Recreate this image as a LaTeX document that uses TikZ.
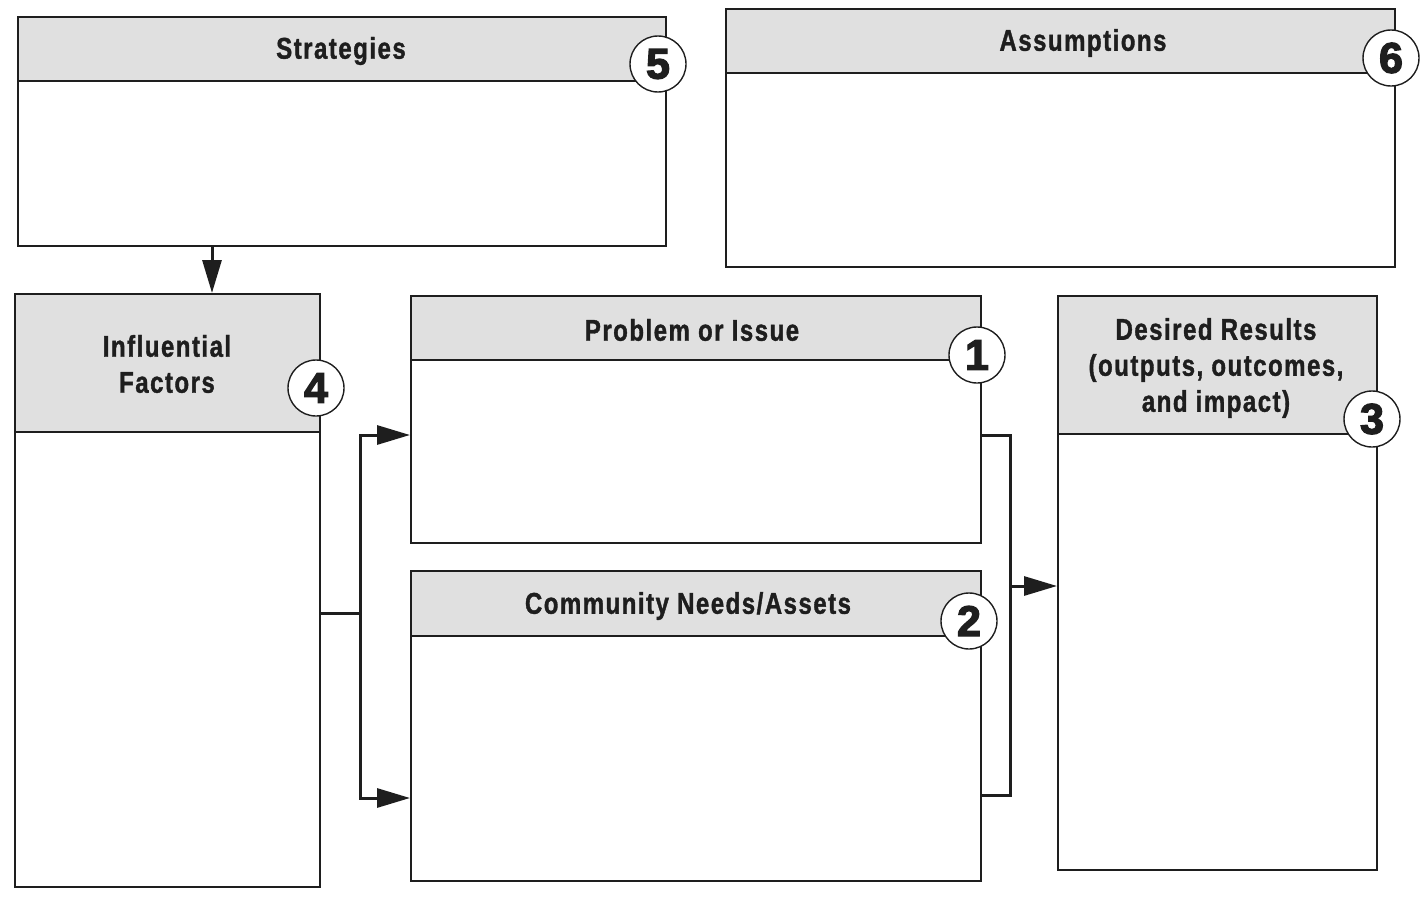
\documentclass[tikz,border=0pt]{standalone}
\usepackage{fontspec}
\setmainfont{Liberation Sans}
\newfontfamily\hf{Liberation Sans}[FakeStretch=0.8,LetterSpace=5,FakeBold=1.2]
\newfontfamily\numf{Liberation Sans}[FakeBold=3]
\usetikzlibrary{arrows.meta,calc}
\definecolor{hdr}{gray}{0.88}
\definecolor{ink}{HTML}{1E1E1E}
\tikzset{
  boxbody/.style={draw=ink, line width=2pt, anchor=north west, inner sep=0pt},
  boxhead/.style={draw=ink, line width=2pt, fill=hdr, anchor=north west, inner sep=0pt},
  htext/.style={font=\hf\bfseries\fontsize{30}{36}\selectfont, text=ink, align=center, inner sep=0pt},
  badge/.style={circle, draw=ink, line width=1.4pt, fill=white, minimum size=56pt, inner sep=0pt, font=\numf\bfseries\fontsize{43}{43}\selectfont, text=ink},
  conn/.style={draw=ink, line width=3pt},
  arr/.style={conn, -{Triangle[length=33pt,width=19pt]}},
}
\begin{document}
\begin{tikzpicture}[x=1pt,y=-1pt]
\useasboundingbox (0,0) rectangle (1428,902);
% Strategies
\node[boxbody, minimum width=648pt, minimum height=229pt] (strat) at (17,16) {};
\node[boxhead, minimum width=648pt, minimum height=64pt] (strath) at (17,16) {};
\node[htext] (stratt) at (341,51) {Strategies};
\node[badge] (b5) at (658,64) {5};
% Assumptions
\node[boxbody, minimum width=669pt, minimum height=258pt] (assu) at (725,8) {};
\node[boxhead, minimum width=669pt, minimum height=64pt] (assuh) at (725,8) {};
\node[htext] (assut) at (1083,43) {Assumptions};
\node[badge] (b6) at (1391,58) {6};
% Influential Factors
\node[boxbody, minimum width=305pt, minimum height=593pt] (infl) at (14,293) {};
\node[boxhead, minimum width=305pt, minimum height=138pt] (inflh) at (14,293) {};
\node[htext] (inflt) at (167,364) {Influential\\Factors};
\node[badge] (b4) at (316,388) {4};
% Problem or Issue
\node[boxbody, minimum width=570pt, minimum height=247pt] (prob) at (410,295) {};
\node[boxhead, minimum width=570pt, minimum height=64pt] (probh) at (410,295) {};
\node[htext] (probt) at (692,330) {Problem or Issue};
\node[badge] (b1) at (977,355) {1};
% Community Needs/Assets
\node[boxbody, minimum width=570pt, minimum height=310pt] (comm) at (410,570) {};
\node[boxhead, minimum width=570pt, minimum height=65pt] (commh) at (410,570) {};
\node[htext] (commt) at (688,606) {Community Needs/Assets};
\node[badge] (b2) at (969,621) {2};
% Desired Results
\node[boxbody, minimum width=319pt, minimum height=574pt] (desi) at (1057,295) {};
\node[boxhead, minimum width=319pt, minimum height=138pt] (desih) at (1057,295) {};
\node[htext] (desit) at (1216,368) {Desired Results\\(outputs, outcomes,\\and impact)};
\node[badge] (b3) at (1372,419) {3};
% connectors
\coordinate (sdown) at (212,245);
\coordinate (jl) at (360,613);
\coordinate (jr) at (1010,586);
\draw[arr] (sdown) -- (sdown |- infl.north);
\draw[conn] (infl.east |- jl) -- (jl);
\draw[arr] (jl) -- (jl |- 0,435) -- (prob.west |- 0,435);
\draw[arr] (jl) -- (jl |- 0,798) -- (comm.west |- 0,798);
\draw[conn] (prob.east |- 0,435) -- (jr |- 0,435) -- (jr |- 0,795) -- (comm.east |- 0,795);
\draw[arr] (jr) -- (desi.west |- jr);
\end{tikzpicture}
\end{document}
